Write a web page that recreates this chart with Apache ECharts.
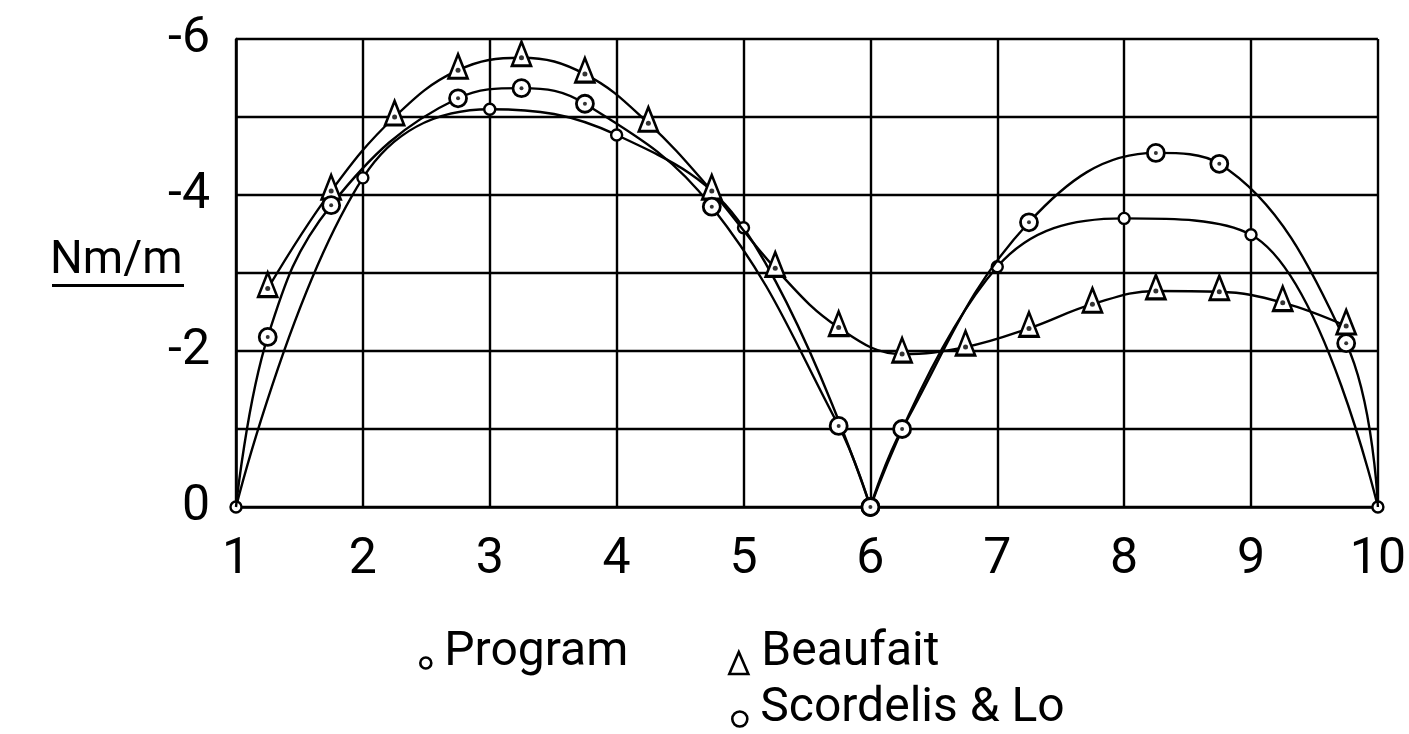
<!DOCTYPE html>
<html><head><meta charset="utf-8">
<script src="https://cdn.jsdelivr.net/npm/echarts@6/dist/echarts.min.js"></script>
<style>html,body{margin:0;padding:0;background:#fff}#c{width:1409px;height:734px}</style>
</head><body><div id="c"></div>
<script>
// ---- data ----
const programX = [1, 2, 3, 4, 5, 6, 7, 8, 9, 10];
const programY = [0, -4.22, -5.10, -4.77, -3.58, 0, -3.08, -3.70, -3.49, 0];
const beaufaitX = [1.25, 1.75, 2.25, 2.75, 3.25, 3.75, 4.25, 4.75, 5.25, 5.75, 6.25, 6.75, 7.25, 7.75, 8.25, 8.75, 9.25, 9.75];
const beaufaitY = [-2.80, -4.05, -5.00, -5.60, -5.76, -5.55, -4.92, -4.05, -3.06, -2.30, -1.96, -2.05, -2.29, -2.60, -2.77, -2.76, -2.62, -2.32];
const scordelisX = [1, 1.25, 1.75, 2.75, 3.25, 3.75, 4.75, 5.75, 6, 6.25, 7.25, 8.25, 8.75, 9.75, 10];
const scordelisY = [0, -2.18, -3.87, -5.24, -5.37, -5.17, -3.85, -1.04, 0, -1.00, -3.65, -4.54, -4.40, -2.10, 0];
const supports = [1, 6, 10];
const seriesNames = ['Program', 'Beaufait', 'Scordelis & Lo'];
const yUnit = 'Nm/m';

// ---- build ----
const FONT = 'Roboto';
const pairs = (xs, ys) => xs.map((x, i) => [x, ys[i]]);
const span = (p, lo, hi) => p.filter(d => d[0] >= lo && d[0] <= hi);
const prog = pairs(programX, programY);
const beau = pairs(beaufaitX, beaufaitY);
const scor = pairs(scordelisX, scordelisY);
const isEnd = d => d[0] === supports[0] || d[0] === supports[supports.length - 1];

const lineStyle = { color: '#000', width: 2.4 };
const hollow = w => ({ color: '#fff', borderColor: '#000', borderWidth: w });

const series = [];
[[supports[0], supports[1]], [supports[1], supports[2]]].forEach(([lo, hi]) => {
  series.push({
    name: seriesNames[0], type: 'line', smooth: 0.4, data: span(prog, lo, hi),
    symbol: 'circle', symbolSize: 11, itemStyle: hollow(2.4), lineStyle, z: 3
  });
});
series.push({
  name: seriesNames[1], type: 'line', smooth: 0.4, data: beau,
  symbol: 'triangle', symbolSize: [19, 24], symbolOffset: [0, -4],
  itemStyle: hollow(2.8), lineStyle, z: 4
});
series.push({
  name: seriesNames[1], type: 'scatter', data: beau, symbol: 'circle', symbolSize: 5,
  itemStyle: { color: '#000' }, silent: true, z: 6
});
[[supports[0], supports[1]], [supports[1], supports[2]]].forEach(([lo, hi]) => {
  series.push({
    name: seriesNames[2], type: 'line', smooth: 0.4,
    data: span(scor, lo, hi).map(d => isEnd(d) ? { value: d, symbol: 'none' } : d),
    symbol: 'circle', symbolSize: 17, itemStyle: hollow(2.8), lineStyle, z: 4
  });
});
series.push({
  name: seriesNames[2], type: 'scatter', data: scor.filter(d => !isEnd(d)),
  symbol: 'circle', symbolSize: 4, itemStyle: { color: '#000' }, silent: true, z: 6
});

const legendText = {
  fontSize: 48, fontFamily: FONT, color: '#000',
  rich: { t: { fontSize: 48, fontFamily: FONT, color: '#000', padding: [0, 0, 20, 8] } }
};
const legendCommon = { selectedMode: false, itemStyle: hollow(2.6), textStyle: legendText, formatter: n => '{t|' + n + '}' };
const chart = echarts.init(document.getElementById('c'));
chart.setOption({
  animation: false,
  backgroundColor: '#fff',
  grid: { left: 236, right: 24, top: 39, bottom: 227 },
  xAxis: {
    type: 'value', min: 1, max: 10, interval: 1,
    axisLine: { show: true, onZero: false, lineStyle: { color: '#000', width: 2.6 } },
    axisTick: { show: false },
    splitLine: { show: true, lineStyle: { color: '#000', width: 2.4 } },
    axisLabel: { fontSize: 50, fontFamily: FONT, color: '#000', margin: 28 }
  },
  yAxis: {
    type: 'value', min: -6, max: 0, interval: 1, inverse: true,
    axisLine: { show: true, lineStyle: { color: '#000', width: 2.6 } },
    axisTick: { show: false },
    splitLine: { show: true, lineStyle: { color: '#000', width: 2.4 } },
    axisLabel: {
      fontSize: 50, fontFamily: FONT, color: '#000', margin: 26,
      formatter: v => (Math.round(v) % 2 === 0 ? String(Math.round(v)) : '')
    }
  },
  legend: [
    Object.assign({ data: [{ name: seriesNames[0], icon: 'circle' }], left: 414, top: 624, itemWidth: 11, itemHeight: 11 }, legendCommon),
    Object.assign({ data: [{ name: seriesNames[1], icon: 'triangle' }], left: 723, top: 624, itemWidth: 19, itemHeight: 22 }, legendCommon),
    Object.assign({ data: [{ name: seriesNames[2], icon: 'circle' }], left: 726, top: 680, itemWidth: 15, itemHeight: 15 }, legendCommon)
  ],
  graphic: [
    { type: 'text', left: 50, top: 238, style: { text: yUnit, font: '46px ' + FONT, fill: '#000' } },
    { type: 'rect', left: 52, top: 284, shape: { width: 132, height: 3 }, style: { fill: '#000' } }
  ],
  series
});
</script></body></html>
